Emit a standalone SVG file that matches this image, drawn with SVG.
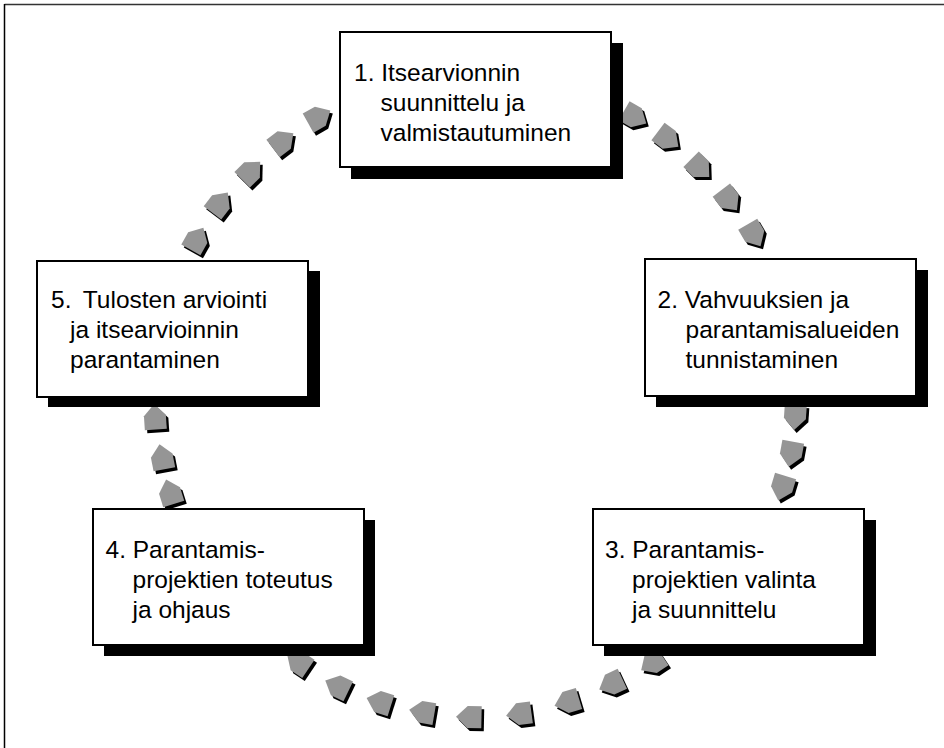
<svg xmlns="http://www.w3.org/2000/svg" xmlns:xlink="http://www.w3.org/1999/xlink" width="944" height="748" viewBox="0 0 944 748">
  <style>
    .box { fill: #ffffff; stroke: #000000; stroke-width: 2; }
    .shadow { fill: #000000; }
    .label { font-family: "Liberation Sans", Arial, sans-serif; font-size: 24.5px; fill: #000000; }
    .arrow { fill: #959595; }
    .arrow-shadow { fill: #000000; }
  </style>
  <defs>
    <!-- pentagon block arrow pointing along +x, centred on the origin -->
    <polygon id="pent" points="13,0 1.5,-11 -12.5,-11 -12.5,11 1.5,11"/>
  </defs>

  <rect width="944" height="748" fill="#ffffff"/>

  <!-- frame -->
  <line x1="4.5" y1="4.5" x2="944" y2="4.5" stroke="#333333" stroke-width="1.5"/>
  <line x1="4.5" y1="4" x2="4.5" y2="748" stroke="#000000" stroke-width="1.5"/>

  <!-- cycle connectors: small block arrows around a circle -->
  <g id="connectors">
    <g transform="translate(635,117)"><use xlink:href="#pent" class="arrow-shadow" transform="translate(2.5,3) rotate(29.7)"/><use xlink:href="#pent" class="arrow" transform="rotate(29.7)"/></g>
    <g transform="translate(668,139)"><use xlink:href="#pent" class="arrow-shadow" transform="translate(2.5,3) rotate(36.8)"/><use xlink:href="#pent" class="arrow" transform="rotate(36.8)"/></g>
    <g transform="translate(700,168)"><use xlink:href="#pent" class="arrow-shadow" transform="translate(2.5,3) rotate(44.5)"/><use xlink:href="#pent" class="arrow" transform="rotate(44.5)"/></g>
    <g transform="translate(729,200)"><use xlink:href="#pent" class="arrow-shadow" transform="translate(2.5,3) rotate(52.2)"/><use xlink:href="#pent" class="arrow" transform="rotate(52.2)"/></g>
    <g transform="translate(754,235)"><use xlink:href="#pent" class="arrow-shadow" transform="translate(2.5,3) rotate(59.9)"/><use xlink:href="#pent" class="arrow" transform="rotate(59.9)"/></g>

    <g transform="translate(795,417)"><use xlink:href="#pent" class="arrow-shadow" transform="translate(2.5,3) rotate(93.8)"/><use xlink:href="#pent" class="arrow" transform="rotate(93.8)"/></g>
    <g transform="translate(791,454)"><use xlink:href="#pent" class="arrow-shadow" transform="translate(2.5,3) rotate(100.4)"/><use xlink:href="#pent" class="arrow" transform="rotate(100.4)"/></g>
    <g transform="translate(782,488)"><use xlink:href="#pent" class="arrow-shadow" transform="translate(2.5,3) rotate(106.7)"/><use xlink:href="#pent" class="arrow" transform="rotate(106.7)"/></g>

    <g transform="translate(652,663)"><use xlink:href="#pent" class="arrow-shadow" transform="translate(2.5,3) rotate(146.6)"/><use xlink:href="#pent" class="arrow" transform="rotate(146.6)"/></g>
    <g transform="translate(611,684)"><use xlink:href="#pent" class="arrow-shadow" transform="translate(2.5,3) rotate(154.9)"/><use xlink:href="#pent" class="arrow" transform="rotate(154.9)"/></g>
    <g transform="translate(567,702)"><use xlink:href="#pent" class="arrow-shadow" transform="translate(2.5,3) rotate(163.4)"/><use xlink:href="#pent" class="arrow" transform="rotate(163.4)"/></g>
    <g transform="translate(519,714)"><use xlink:href="#pent" class="arrow-shadow" transform="translate(2.5,3) rotate(172.3)"/><use xlink:href="#pent" class="arrow" transform="rotate(172.3)"/></g>
    <g transform="translate(469,717)"><use xlink:href="#pent" class="arrow-shadow" transform="translate(2.5,3) rotate(181.2)"/><use xlink:href="#pent" class="arrow" transform="rotate(181.2)"/></g>
    <g transform="translate(422,712)"><use xlink:href="#pent" class="arrow-shadow" transform="translate(2.5,3) rotate(189.7)"/><use xlink:href="#pent" class="arrow" transform="rotate(189.7)"/></g>
    <g transform="translate(379,702)"><use xlink:href="#pent" class="arrow-shadow" transform="translate(2.5,3) rotate(197.6)"/><use xlink:href="#pent" class="arrow" transform="rotate(197.6)"/></g>
    <g transform="translate(337,686)"><use xlink:href="#pent" class="arrow-shadow" transform="translate(2.5,3) rotate(205.6)"/><use xlink:href="#pent" class="arrow" transform="rotate(205.6)"/></g>
    <g transform="translate(298,662)"><use xlink:href="#pent" class="arrow-shadow" transform="translate(2.5,3) rotate(213.8)"/><use xlink:href="#pent" class="arrow" transform="rotate(213.8)"/></g>

    <g transform="translate(170,492)"><use xlink:href="#pent" class="arrow-shadow" transform="translate(2.5,3) rotate(252.6)"/><use xlink:href="#pent" class="arrow" transform="rotate(252.6)"/></g>
    <g transform="translate(162,457)"><use xlink:href="#pent" class="arrow-shadow" transform="translate(2.5,3) rotate(259)"/><use xlink:href="#pent" class="arrow" transform="rotate(259)"/></g>
    <g transform="translate(155,417)"><use xlink:href="#pent" class="arrow-shadow" transform="translate(2.5,3) rotate(266.3)"/><use xlink:href="#pent" class="arrow" transform="rotate(266.3)"/></g>

    <g transform="translate(197,239)"><use xlink:href="#pent" class="arrow-shadow" transform="translate(2.5,3) rotate(299.4)"/><use xlink:href="#pent" class="arrow" transform="rotate(299.4)"/></g>
    <g transform="translate(220,203)"><use xlink:href="#pent" class="arrow-shadow" transform="translate(2.5,3) rotate(307)"/><use xlink:href="#pent" class="arrow" transform="rotate(307)"/></g>
    <g transform="translate(251,171)"><use xlink:href="#pent" class="arrow-shadow" transform="translate(2.5,3) rotate(315)"/><use xlink:href="#pent" class="arrow" transform="rotate(315)"/></g>
    <g transform="translate(283,141)"><use xlink:href="#pent" class="arrow-shadow" transform="translate(2.5,3) rotate(322.9)"/><use xlink:href="#pent" class="arrow" transform="rotate(322.9)"/></g>
    <g transform="translate(319,117)"><use xlink:href="#pent" class="arrow-shadow" transform="translate(2.5,3) rotate(330.6)"/><use xlink:href="#pent" class="arrow" transform="rotate(330.6)"/></g>
  </g>

  <!-- step 1 -->
  <g id="step1">
    <rect class="shadow" x="351" y="43" width="272" height="136"/>
    <rect class="box" x="340" y="32" width="271" height="135"/>
    <text class="label" x="354" y="80.5">1. Itsearvionnin</text>
    <text class="label" x="380.5" y="110.5">suunnittelu ja</text>
    <text class="label" x="380.5" y="140.5">valmistautuminen</text>
  </g>

  <!-- step 2 -->
  <g id="step2">
    <rect class="shadow" x="656" y="270" width="272" height="137"/>
    <rect class="box" x="645" y="259" width="271" height="137"/>
    <text class="label" x="657.5" y="308">2. Vahvuuksien ja</text>
    <text class="label" x="685.5" y="338">parantamisalueiden</text>
    <text class="label" x="685.5" y="368">tunnistaminen</text>
  </g>

  <!-- step 3 -->
  <g id="step3">
    <rect class="shadow" x="604" y="520" width="272" height="136"/>
    <rect class="box" x="593" y="509" width="271" height="136"/>
    <text class="label" x="605" y="558">3. Parantamis-</text>
    <text class="label" x="632" y="588">projektien valinta</text>
    <text class="label" x="632" y="618">ja suunnittelu</text>
  </g>

  <!-- step 4 -->
  <g id="step4">
    <rect class="shadow" x="104" y="520" width="271" height="136"/>
    <rect class="box" x="93" y="509" width="271" height="136"/>
    <text class="label" x="105.5" y="558">4. Parantamis-</text>
    <text class="label" x="132.5" y="588">projektien toteutus</text>
    <text class="label" x="132.5" y="618">ja ohjaus</text>
  </g>

  <!-- step 5 -->
  <g id="step5">
    <rect class="shadow" x="48" y="271" width="272" height="136"/>
    <rect class="box" x="37" y="261" width="271" height="136"/>
    <text class="label" x="51"><tspan x="51" y="308">5.</tspan><tspan x="82.8" y="308">Tulosten arviointi</tspan></text>
    <text class="label" x="70" y="338">ja itsearvioinnin</text>
    <text class="label" x="70" y="368">parantaminen</text>
  </g>
</svg>
